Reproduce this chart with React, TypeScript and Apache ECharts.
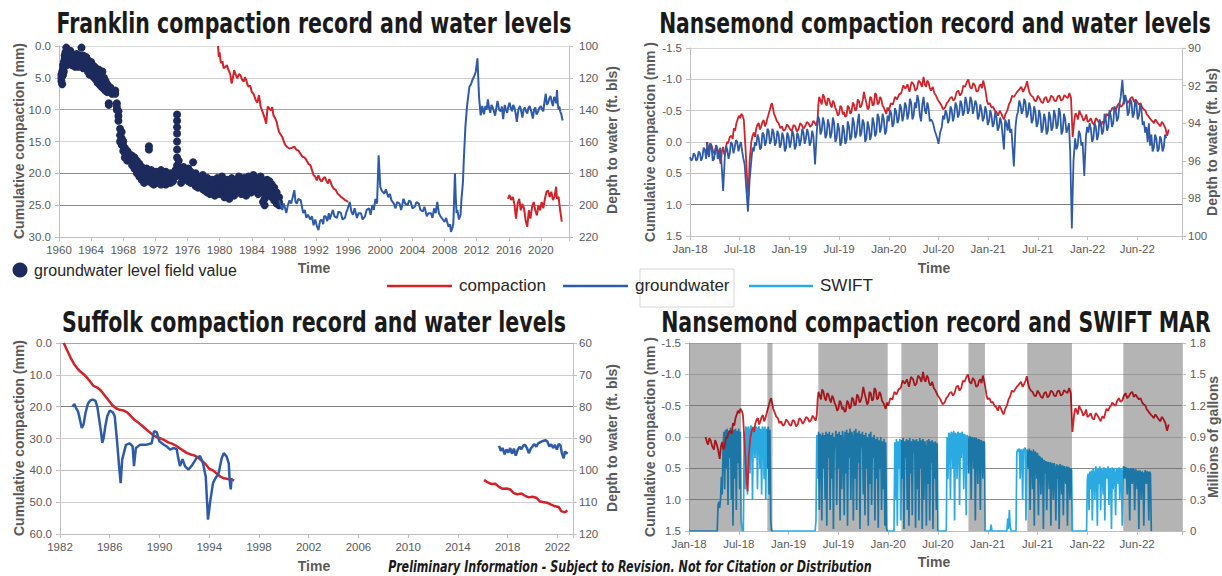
import React, { useEffect, useRef } from 'react';
import * as echarts from 'echarts';

// ---------------- Franklin ----------------
const franklinYearTicks = 4;
const franklinFieldValues: [number, number[]][] = [
  [1960.3, [122, 120, 118]], [1960.4, [124, 119, 116]], [1960.5, [114, 118, 112]], [1960.6, [110, 113, 116]],
  [1960.7, [108, 111, 106]], [1960.8, [104, 108, 112]], [1960.9, [101, 106, 110]], [1961.0, [105, 109, 112]],
  [1961.2, [107, 104, 111]], [1961.4, [106, 110, 103]], [1961.6, [108, 112, 105]], [1961.8, [107, 111, 109]],
  [1962.0, [106, 110, 113]], [1962.2, [108, 112, 105]], [1962.4, [107, 110, 113]], [1962.6, [109, 112, 106]],
  [1962.8, [101, 108, 111]], [1963.0, [106, 110, 114]], [1963.2, [108, 112, 109]], [1963.4, [110, 114, 107]],
  [1963.6, [109, 113, 116]], [1963.8, [111, 115, 118]], [1964.0, [110, 114, 117]], [1964.2, [112, 116, 119]],
  [1964.4, [113, 117, 120]], [1964.6, [114, 118, 121]], [1964.8, [116, 120, 123]], [1965.0, [115, 119, 124]],
  [1965.2, [117, 121, 125]], [1965.4, [116, 122, 126]], [1965.6, [120, 124, 127]], [1965.8, [122, 126, 128]],
  [1966.0, [124, 127, 129]], [1966.2, [136, 137]], [1966.4, [126, 128]], [1966.6, [128, 130]], [1966.8, [129]],
  [1967.0, [128, 130]], [1967.2, [136, 138, 140]], [1967.4, [141, 144, 147]], [1967.6, [152, 156, 160]],
  [1967.8, [154, 158, 162]], [1968.0, [160, 163, 166]], [1968.2, [164, 167, 170]], [1968.5, [166, 169, 172]],
  [1968.8, [168, 171]], [1969.1, [169, 172, 175]], [1969.4, [170, 174, 177]], [1969.7, [172, 176, 180]],
  [1970.0, [174, 178, 182]], [1970.3, [176, 180, 184]], [1970.6, [178, 182, 186]], [1970.9, [177, 181, 185]],
  [1971.2, [163, 165, 180, 184]], [1971.5, [178, 182, 186]], [1971.8, [180, 184, 187]], [1972.1, [179, 183, 186]],
  [1972.4, [181, 185]], [1972.7, [178, 182, 187]], [1973.0, [180, 184, 186]], [1973.3, [179, 183, 187]],
  [1973.6, [181, 185]], [1973.9, [180, 184, 186]], [1974.2, [181, 185]], [1974.5, [178, 182]],
  [1974.7, [143, 147, 151, 155, 160, 165, 170, 175]], [1974.9, [172, 176, 180]], [1975.2, [178, 182, 186]],
  [1975.5, [176, 180, 184]], [1975.8, [179, 183]], [1976.1, [177, 181, 185]], [1976.4, [179, 183, 186]],
  [1976.7, [173, 182]], [1977.0, [180, 184, 188]], [1977.3, [182, 186, 189]], [1977.6, [183, 187]],
  [1977.9, [181, 185, 190]], [1978.2, [184, 188, 191]], [1978.5, [183, 187, 192]], [1978.8, [185, 189, 193]],
  [1979.1, [184, 188, 191]], [1979.4, [186, 190, 194]], [1979.7, [183, 187, 192]], [1980.0, [185, 189, 193]],
  [1980.3, [182, 186, 191]], [1980.6, [186, 190, 195]], [1980.9, [184, 188, 192]], [1981.2, [187, 191, 196]],
  [1981.5, [183, 188, 193]], [1981.8, [186, 190, 194]], [1982.1, [184, 188, 192]], [1982.4, [182, 186, 191]],
  [1982.7, [185, 189, 193]], [1983.0, [183, 187, 191]], [1983.3, [186, 190, 194]], [1983.6, [182, 187, 191]],
  [1983.9, [184, 188, 192]], [1984.2, [181, 185, 190]], [1984.5, [183, 187, 191]], [1984.8, [185, 189, 193]],
  [1985.1, [182, 186, 190]], [1985.4, [186, 192, 198]], [1985.6, [190, 196, 200]], [1985.9, [184, 188, 192]],
  [1986.2, [185, 189, 194]], [1986.5, [187, 191, 195]], [1986.8, [189, 193, 197]], [1987.1, [192, 196, 199]],
  [1987.4, [195, 198, 200]],
];
const franklinGroundwater: [number, number][] = [
  [1987.4, 197], [1987.8, 203], [1988.0, 199], [1988.3, 205], [1988.5, 200], [1988.7, 197], [1988.9, 199],
  [1989.1, 195], [1989.3, 190.6], [1989.45, 198], [1989.6, 199], [1989.8, 196], [1990.1, 197], [1990.4, 205],
  [1990.6, 203], [1990.8, 208], [1991.0, 206], [1991.3, 209], [1991.5, 207], [1991.7, 212.6], [1991.9, 209],
  [1992.1, 213], [1992.3, 215.7], [1992.5, 210], [1992.7, 209], [1992.9, 212], [1993.0, 207], [1993.2, 207],
  [1993.4, 210], [1993.6, 205], [1993.7, 209], [1993.9, 206], [1994.1, 203], [1994.3, 207], [1994.6, 208],
  [1994.8, 204], [1995.1, 205], [1995.3, 209], [1995.6, 208], [1995.8, 204], [1995.9, 203], [1996.2, 198],
  [1996.4, 204], [1996.6, 206], [1996.8, 202], [1997.1, 208], [1997.3, 205], [1997.6, 205], [1997.8, 209],
  [1998.1, 207], [1998.3, 203], [1998.6, 202], [1998.8, 206], [1999.0, 200], [1999.2, 203], [1999.4, 196],
  [1999.6, 199], [1999.8, 168.6], [2000.0, 188.5], [2000.2, 191], [2000.5, 192.7], [2000.7, 190], [2001.0, 195],
  [2001.2, 193], [2001.4, 197], [2001.7, 199], [2001.9, 202], [2002.1, 198], [2002.4, 199], [2002.6, 203],
  [2002.9, 196], [2003.1, 199], [2003.4, 200], [2003.6, 197], [2003.8, 198], [2004.0, 202], [2004.3, 201],
  [2004.5, 198], [2004.8, 199], [2005.0, 203], [2005.3, 204], [2005.5, 201], [2005.8, 207], [2006.0, 205],
  [2006.3, 205], [2006.5, 208], [2006.7, 202], [2006.9, 205], [2007.1, 198], [2007.3, 205], [2007.5, 207],
  [2007.8, 209], [2008.0, 210.5], [2008.2, 208], [2008.5, 213.6], [2008.7, 212], [2008.8, 216.8], [2009.0, 214],
  [2009.1, 211.5], [2009.3, 180], [2009.4, 195], [2009.5, 205], [2009.6, 203], [2009.8, 209], [2010.0, 206],
  [2010.1, 197], [2010.3, 185], [2010.4, 171.7], [2010.6, 150.7], [2010.8, 138], [2011.1, 125.6], [2011.3, 124],
  [2011.5, 121], [2011.7, 119], [2011.9, 116], [2012.1, 107.8], [2012.3, 132], [2012.5, 143.6], [2012.7, 137.7],
  [2012.9, 142.9], [2013.1, 137.7], [2013.25, 140], [2013.4, 133.5], [2013.55, 139], [2013.7, 142], [2013.85, 137],
  [2014.0, 138.6], [2014.15, 141], [2014.3, 143.8], [2014.45, 139], [2014.6, 134.5], [2014.8, 140], [2015.0, 141],
  [2015.15, 138], [2015.3, 146], [2015.5, 137], [2015.65, 140], [2015.8, 142], [2015.95, 138], [2016.1, 135.6],
  [2016.25, 139], [2016.4, 141], [2016.55, 137], [2016.7, 138.6], [2016.85, 142], [2017.0, 147.6], [2017.2, 140],
  [2017.4, 137.7], [2017.55, 141], [2017.7, 145], [2017.85, 140], [2018.0, 138.6], [2018.15, 141], [2018.3, 142.5],
  [2018.45, 139], [2018.6, 137.7], [2018.8, 141], [2019.0, 145.5], [2019.15, 140], [2019.3, 138.6], [2019.45, 143],
  [2019.6, 141.8], [2019.8, 139], [2020.0, 137.7], [2020.15, 140], [2020.3, 141], [2020.45, 135], [2020.6, 130],
  [2020.75, 137], [2020.9, 135.6], [2021.05, 133], [2021.2, 131.4], [2021.35, 135], [2021.5, 137.7], [2021.65, 132],
  [2021.8, 133.5], [2021.9, 136], [2022.0, 127.7], [2022.1, 136], [2022.2, 140], [2022.3, 138], [2022.4, 141],
  [2022.55, 143], [2022.7, 146.8],
];
const franklinCompactionEarly: [number, number][] = [
  [1979.8, 0.0], [1979.9, 1.7], [1980.0, 1.0], [1980.1, 2.2], [1980.2, 2.7], [1980.35, 2.4], [1980.5, 3.5],
  [1980.7, 3.3], [1980.9, 3.0], [1981.05, 3.6], [1981.2, 4.0], [1981.35, 4.6], [1981.5, 5.9], [1981.65, 5.0],
  [1981.8, 3.8], [1982.0, 4.5], [1982.2, 5.1], [1982.4, 4.4], [1982.6, 4.6], [1982.8, 5.3], [1983.0, 5.6],
  [1983.15, 4.9], [1983.3, 5.3], [1983.45, 6.0], [1983.6, 6.4], [1983.8, 6.2], [1984.0, 7.2], [1984.25, 7.6],
  [1984.5, 8.5], [1984.7, 8.9], [1984.9, 7.7], [1985.0, 8.6], [1985.1, 9.5], [1985.3, 10.2], [1985.5, 10.9],
  [1985.65, 11.5], [1985.8, 12.2], [1985.9, 10.6], [1986.0, 9.5], [1986.2, 9.9], [1986.4, 10.1], [1986.55, 9.6],
  [1986.7, 10.9], [1986.9, 11.3], [1987.1, 11.9], [1987.25, 12.8], [1987.4, 13.5], [1987.6, 13.9], [1987.8, 14.3],
  [1988.0, 15.0], [1988.2, 15.6], [1988.45, 15.9], [1988.7, 16.1], [1989.0, 16.0], [1989.3, 15.8], [1989.55, 16.3],
  [1989.8, 16.4], [1990.05, 16.9], [1990.3, 17.4], [1990.55, 17.5], [1990.8, 17.9], [1991.05, 18.5], [1991.3, 18.7],
  [1991.5, 19.5], [1991.7, 20.3], [1991.9, 20.5], [1992.1, 21.1], [1992.3, 20.3], [1992.5, 21.0], [1992.7, 21.3],
  [1992.9, 20.8], [1993.1, 20.6], [1993.3, 21.2], [1993.5, 21.6], [1993.65, 20.9], [1993.8, 21.3], [1994.0, 22.0],
  [1994.2, 22.4], [1994.45, 22.6], [1994.7, 23.2], [1994.9, 23.4], [1995.1, 23.7], [1995.35, 23.9], [1995.6, 24.2],
  [1995.8, 24.3], [1996.0, 24.5],
];
const franklinCompactionRecent: [number, number][] = [
  [2015.9, 24.0], [2016.1, 23.4], [2016.3, 24.2], [2016.5, 23.7], [2016.7, 24.8], [2016.9, 27.1], [2017.1, 24.8],
  [2017.3, 24.0], [2017.5, 25.8], [2017.7, 24.8], [2017.9, 25.5], [2018.1, 27.4], [2018.3, 28.4], [2018.5, 25.8],
  [2018.7, 27.1], [2018.9, 25.3], [2019.1, 24.5], [2019.3, 25.8], [2019.5, 26.6], [2019.7, 25.0], [2019.9, 25.8],
  [2020.1, 24.5], [2020.3, 25.5], [2020.5, 24.0], [2020.7, 22.9], [2020.9, 22.7], [2021.1, 23.7], [2021.3, 22.9],
  [2021.5, 24.2], [2021.7, 23.7], [2021.9, 22.1], [2022.0, 24.0], [2022.2, 23.7], [2022.4, 25.8], [2022.6, 27.6],
];

// ---------------- Nansemond (months since Jan 2018) ----------------
const nansemondTickLabels = ['Jan-18', 'Jul-18', 'Jan-19', 'Jul-19', 'Jan-20', 'Jul-20', 'Jan-21', 'Jul-21', 'Jan-22', 'Jun-22'];
const nansemondCompaction: [number, number][] = [
  [2.0, 0.0], [2.15, 0.08], [2.3, 0.12], [2.45, 0.02], [2.6, 0.05], [2.8, 0.15], [3.0, 0.2], [3.15, 0.05], [3.3, 0.1],
  [3.5, 0.2], [3.7, 0.35], [3.85, 0.15], [4.0, 0.08], [4.15, 0.2], [4.3, 0.15], [4.45, 0.0], [4.6, 0.02], [4.8, -0.08],
  [5.0, -0.1], [5.15, -0.05], [5.3, -0.22], [5.45, -0.18], [5.6, -0.3], [5.75, -0.36], [5.9, -0.42], [6.05, -0.38],
  [6.2, -0.45], [6.35, -0.42], [6.5, -0.35], [6.7, 0.1], [6.9, 0.6], [7.05, 0.87], [7.2, 0.3], [7.4, 0.0],
  [7.55, -0.1], [7.7, -0.15], [7.85, -0.08], [8.0, -0.22], [8.15, -0.28], [8.3, -0.3], [8.45, -0.2], [8.6, -0.25],
  [8.75, -0.32], [8.9, -0.35], [9.05, -0.25], [9.2, -0.3], [9.35, -0.38], [9.5, -0.45], [9.65, -0.52], [9.8, -0.6],
  [9.9, -0.62], [10.0, -0.55], [10.15, -0.45], [10.3, -0.4], [10.5, -0.33], [10.7, -0.3], [10.9, -0.22], [11.1, -0.25],
  [11.3, -0.18], [11.5, -0.2], [11.7, -0.28], [11.9, -0.25], [12.1, -0.2], [12.3, -0.18], [12.5, -0.27], [12.7, -0.25],
  [12.9, -0.17], [13.1, -0.2], [13.3, -0.3], [13.5, -0.27], [13.7, -0.21], [13.9, -0.25], [14.1, -0.32], [14.3, -0.3],
  [14.5, -0.24], [14.7, -0.27], [14.9, -0.34], [15.1, -0.3], [15.25, -0.26], [15.4, -0.35], [15.5, -0.6], [15.6, -0.72],
  [15.75, -0.66], [15.9, -0.6], [16.05, -0.76], [16.2, -0.72], [16.35, -0.62], [16.5, -0.58], [16.65, -0.7],
  [16.8, -0.68], [16.95, -0.6], [17.1, -0.55], [17.25, -0.66], [17.4, -0.62], [17.55, -0.54], [17.7, -0.5],
  [17.85, -0.42], [18.0, -0.45], [18.15, -0.58], [18.3, -0.55], [18.45, -0.44], [18.6, -0.48], [18.75, -0.4],
  [18.9, -0.42], [19.05, -0.58], [19.2, -0.55], [19.35, -0.45], [19.5, -0.48], [19.65, -0.63], [19.8, -0.6],
  [19.95, -0.5], [20.1, -0.52], [20.25, -0.68], [20.4, -0.65], [20.55, -0.55], [20.7, -0.58], [20.85, -0.66],
  [21.0, -0.8], [21.15, -0.7], [21.3, -0.62], [21.45, -0.52], [21.6, -0.55], [21.75, -0.72], [21.9, -0.7],
  [22.05, -0.58], [22.2, -0.6], [22.35, -0.78], [22.5, -0.75], [22.65, -0.6], [22.8, -0.62], [22.95, -0.72],
  [23.1, -0.68], [23.25, -0.58], [23.4, -0.55], [23.55, -0.5], [23.7, -0.45], [23.85, -0.55], [24.0, -0.5],
  [24.25, -0.62], [24.5, -0.6], [24.75, -0.72], [25.0, -0.68], [25.25, -0.76], [25.5, -0.78], [25.75, -0.9],
  [26.0, -0.85], [26.25, -0.92], [26.5, -0.8], [26.75, -0.96], [27.0, -0.92], [27.2, -0.82], [27.4, -0.85],
  [27.6, -0.98], [27.8, -0.95], [28.0, -0.88], [28.2, -1.04], [28.35, -0.92], [28.5, -0.88], [28.65, -0.98],
  [28.8, -0.95], [28.95, -0.86], [29.1, -0.82], [29.3, -0.88], [29.5, -0.78], [29.7, -0.74], [29.9, -0.68],
  [30.1, -0.64], [30.3, -0.6], [30.55, -0.52], [30.8, -0.55], [31.0, -0.62], [31.2, -0.65], [31.4, -0.7],
  [31.6, -0.72], [31.8, -0.66], [32.0, -0.7], [32.2, -0.8], [32.4, -0.82], [32.6, -0.74], [32.8, -0.78],
  [33.0, -0.9], [33.2, -0.88], [33.4, -0.95], [33.6, -1.0], [33.8, -0.88], [34.0, -0.85], [34.2, -0.94],
  [34.4, -0.9], [34.6, -0.8], [34.8, -0.82], [34.95, -0.9], [35.1, -0.92], [35.25, -0.86], [35.4, -0.98],
  [35.55, -0.9], [35.7, -0.8], [35.85, -0.66], [36.0, -0.6], [36.2, -0.62], [36.4, -0.55], [36.6, -0.56],
  [36.8, -0.5], [37.0, -0.48], [37.2, -0.42], [37.4, -0.5], [37.6, -0.45], [37.75, -0.4], [37.9, -0.36],
  [38.1, -0.45], [38.3, -0.5], [38.5, -0.6], [38.7, -0.65], [38.9, -0.74], [39.1, -0.72], [39.3, -0.76],
  [39.5, -0.8], [39.75, -0.84], [40.0, -0.88], [40.2, -0.8], [40.4, -0.85], [40.55, -0.9], [40.7, -0.97],
  [40.85, -0.86], [41.0, -0.78], [41.2, -0.74], [41.4, -0.72], [41.6, -0.66], [41.8, -0.65], [42.0, -0.74],
  [42.2, -0.7], [42.4, -0.64], [42.6, -0.62], [42.8, -0.7], [43.0, -0.72], [43.2, -0.63], [43.4, -0.66],
  [43.6, -0.74], [43.8, -0.72], [44.0, -0.66], [44.2, -0.65], [44.4, -0.73], [44.6, -0.74], [44.8, -0.66],
  [45.0, -0.68], [45.2, -0.75], [45.4, -0.72], [45.6, -0.7], [45.8, -0.78], [46.0, -0.7], [46.2, -0.08],
  [46.4, -0.35], [46.55, -0.46], [46.7, -0.42], [46.85, -0.36], [47.0, -0.5], [47.15, -0.45], [47.3, -0.42],
  [47.5, -0.34], [47.7, -0.38], [47.85, -0.44], [48.0, -0.32], [48.2, -0.34], [48.4, -0.38], [48.6, -0.3],
  [48.8, -0.28], [49.0, -0.38], [49.2, -0.35], [49.4, -0.3], [49.6, -0.25], [49.8, -0.33], [50.0, -0.3],
  [50.15, -0.38], [50.3, -0.45], [50.5, -0.42], [50.7, -0.48], [50.85, -0.5], [51.0, -0.55], [51.2, -0.52],
  [51.4, -0.5], [51.6, -0.58], [51.8, -0.62], [52.0, -0.56], [52.2, -0.58], [52.4, -0.66], [52.6, -0.7],
  [52.8, -0.62], [53.0, -0.65], [53.2, -0.7], [53.4, -0.72], [53.6, -0.64], [53.8, -0.68], [54.0, -0.64],
  [54.2, -0.6], [54.4, -0.62], [54.6, -0.55], [54.8, -0.52], [55.0, -0.5], [55.15, -0.44], [55.3, -0.42],
  [55.5, -0.38], [55.7, -0.35], [55.85, -0.33], [56.0, -0.3], [56.2, -0.36], [56.4, -0.32], [56.6, -0.28],
  [56.8, -0.25], [56.95, -0.32], [57.1, -0.3], [57.25, -0.26], [57.4, -0.22], [57.6, -0.1], [57.8, -0.2],
];
const nansemondGroundwater: [number, number][] = [
  [0.0, 95.8], [0.15, 96.0], [0.3, 95.9], [0.45, 95.6], [0.6, 95.7], [0.75, 96.0], [0.9, 95.9], [1.05, 95.5],
  [1.2, 95.6], [1.35, 96.0], [1.5, 95.8], [1.65, 95.3], [1.8, 95.4], [1.95, 95.9], [2.1, 95.0], [2.2, 95.6],
  [2.3, 95.8], [2.45, 95.1], [2.6, 95.3], [2.75, 96.0], [2.9, 95.9], [3.05, 95.4], [3.2, 95.2], [3.35, 95.9],
  [3.5, 95.7], [3.65, 95.3], [3.8, 96.1], [4.0, 97.6], [4.2, 95.8], [4.35, 95.2], [4.5, 95.4], [4.65, 95.9],
  [4.8, 95.6], [4.95, 95.0], [5.1, 95.1], [5.25, 95.6], [5.4, 95.3], [5.55, 94.9], [5.7, 95.0], [5.85, 95.5],
  [6.0, 95.2], [6.15, 95.0], [6.3, 95.5], [6.45, 95.9], [6.6, 96.2], [6.8, 97.5], [7.0, 98.7], [7.2, 97.0],
  [7.4, 96.0], [7.55, 95.3], [7.7, 95.5], [7.85, 95.0], [8.0, 95.2], [8.15, 94.6], [8.3, 94.8], [8.45, 95.4],
  [8.6, 95.3], [8.75, 94.5], [8.9, 94.6], [9.05, 95.2], [9.2, 95.0], [9.35, 94.3], [9.5, 94.4], [9.65, 95.1],
  [9.8, 94.9], [9.95, 94.3], [10.1, 94.5], [10.25, 95.2], [10.4, 95.0], [10.55, 94.4], [10.7, 94.6], [10.85, 95.3],
  [11.0, 95.1], [11.15, 94.5], [11.3, 94.8], [11.45, 95.5], [11.6, 95.3], [11.75, 94.5], [11.9, 94.7], [12.05, 95.3],
  [12.2, 95.0], [12.35, 94.4], [12.5, 94.6], [12.65, 95.4], [12.8, 95.2], [12.95, 94.5], [13.1, 94.7], [13.25, 95.2],
  [13.4, 94.9], [13.55, 94.3], [13.7, 94.5], [13.85, 95.1], [14.0, 94.8], [14.15, 94.3], [14.3, 94.6], [14.45, 95.2],
  [14.6, 95.0], [14.75, 94.4], [14.9, 94.7], [15.1, 96.2], [15.3, 94.5], [15.45, 93.6], [15.6, 93.8], [15.75, 94.6],
  [15.9, 94.4], [16.05, 93.7], [16.2, 94.0], [16.35, 94.8], [16.5, 94.6], [16.65, 93.8], [16.8, 94.1], [16.95, 94.8],
  [17.1, 94.5], [17.25, 93.7], [17.4, 94.0], [17.55, 95.0], [17.7, 94.8], [17.85, 94.0], [18.0, 94.3], [18.15, 95.2],
  [18.3, 95.0], [18.45, 94.1], [18.6, 94.4], [18.75, 95.1], [18.9, 94.9], [19.05, 93.9], [19.2, 94.2], [19.35, 94.9],
  [19.5, 94.7], [19.65, 93.7], [19.8, 94.0], [19.95, 94.8], [20.1, 94.6], [20.25, 93.9], [20.4, 93.5], [20.55, 94.7],
  [20.7, 94.5], [20.85, 93.8], [21.0, 94.0], [21.15, 95.0], [21.3, 94.8], [21.45, 93.9], [21.6, 94.2], [21.75, 94.9],
  [21.9, 94.6], [22.05, 93.7], [22.2, 94.0], [22.35, 94.7], [22.5, 94.5], [22.65, 93.5], [22.8, 93.7], [22.95, 94.5],
  [23.1, 94.2], [23.25, 93.5], [23.4, 93.8], [23.55, 94.6], [23.7, 94.4], [23.85, 93.6], [24.0, 93.9], [24.15, 93.3],
  [24.3, 93.5], [24.45, 94.2], [24.6, 94.0], [24.75, 93.2], [24.9, 93.4], [25.05, 94.0], [25.2, 93.8], [25.35, 93.0],
  [25.5, 93.2], [25.65, 93.9], [25.8, 93.6], [25.95, 92.9], [26.1, 93.1], [26.25, 93.8], [26.4, 93.5], [26.55, 92.7],
  [26.7, 92.9], [26.85, 93.8], [27.0, 93.6], [27.15, 92.9], [27.3, 93.2], [27.45, 92.5], [27.6, 92.8], [27.75, 93.6],
  [27.9, 93.9], [28.05, 93.0], [28.2, 92.6], [28.35, 93.3], [28.5, 93.5], [28.65, 92.9], [28.8, 93.2], [28.95, 93.9],
  [29.1, 93.8], [29.25, 93.9], [29.4, 94.1], [29.55, 94.4], [29.7, 94.6], [29.85, 94.8], [30.0, 95.1], [30.2, 94.5],
  [30.4, 94.2], [30.55, 93.6], [30.7, 93.8], [30.85, 93.3], [31.0, 93.5], [31.15, 94.0], [31.3, 93.8], [31.45, 93.1],
  [31.6, 93.3], [31.75, 93.9], [31.9, 93.6], [32.05, 92.9], [32.2, 93.1], [32.35, 93.7], [32.5, 93.5], [32.65, 92.8],
  [32.8, 93.0], [32.95, 93.6], [33.1, 93.4], [33.25, 92.6], [33.4, 92.9], [33.55, 93.5], [33.7, 93.3], [33.85, 92.6],
  [34.0, 92.8], [34.15, 93.5], [34.3, 93.2], [34.45, 92.8], [34.6, 93.0], [34.75, 93.8], [34.9, 93.6], [35.05, 93.0],
  [35.2, 93.3], [35.35, 93.9], [35.5, 93.7], [35.65, 93.1], [35.8, 93.4], [35.95, 94.1], [36.1, 93.9], [36.25, 93.3],
  [36.4, 93.6], [36.55, 94.2], [36.7, 94.0], [36.85, 93.4], [37.0, 93.7], [37.15, 94.4], [37.3, 94.2], [37.45, 93.7],
  [37.6, 94.0], [37.9, 95.4], [38.05, 93.8], [38.2, 94.0], [38.35, 94.4], [38.5, 93.8], [38.65, 94.5], [38.8, 94.3],
  [39.1, 96.3], [39.3, 94.2], [39.45, 93.6], [39.6, 93.4], [39.75, 92.8], [39.9, 93.0], [40.05, 93.5], [40.2, 93.3],
  [40.35, 92.7], [40.5, 92.9], [40.65, 93.7], [40.8, 93.5], [40.95, 92.9], [41.1, 93.2], [41.25, 94.0], [41.4, 93.8],
  [41.55, 93.1], [41.7, 93.4], [41.85, 94.2], [42.0, 94.0], [42.15, 93.3], [42.3, 93.6], [42.45, 94.5], [42.6, 94.3],
  [42.75, 93.5], [42.9, 93.8], [43.05, 94.6], [43.2, 94.4], [43.35, 93.4], [43.5, 93.7], [43.65, 94.4], [43.8, 94.2],
  [43.95, 93.3], [44.1, 93.6], [44.25, 94.3], [44.4, 94.1], [44.55, 93.2], [44.7, 93.5], [44.85, 94.6], [45.0, 94.4],
  [45.15, 93.5], [45.3, 93.8], [45.45, 94.5], [45.6, 94.3], [45.75, 94.0], [45.9, 95.5], [46.1, 99.6], [46.3, 96.0],
  [46.5, 94.8], [46.65, 95.4], [46.8, 95.2], [46.95, 94.4], [47.1, 94.6], [47.25, 95.2], [47.4, 95.0], [47.6, 96.8],
  [47.8, 94.7], [47.95, 94.2], [48.1, 94.5], [48.25, 94.0], [48.4, 94.3], [48.55, 95.0], [48.7, 94.8], [48.85, 94.0],
  [49.0, 94.2], [49.15, 94.9], [49.3, 94.6], [49.45, 93.8], [49.6, 94.0], [49.75, 94.6], [49.9, 94.4], [50.05, 93.5],
  [50.2, 93.8], [50.35, 94.4], [50.5, 94.2], [50.65, 93.3], [50.8, 93.6], [50.95, 94.2], [51.1, 94.0], [51.25, 93.1],
  [51.4, 93.3], [51.55, 93.9], [51.7, 93.7], [51.85, 93.0], [52.0, 92.6], [52.2, 91.7], [52.4, 93.0], [52.55, 92.5],
  [52.7, 92.8], [52.85, 93.6], [53.0, 93.4], [53.15, 92.7], [53.3, 92.9], [53.45, 93.7], [53.6, 93.5], [53.75, 92.8],
  [53.9, 93.0], [54.05, 93.8], [54.2, 93.6], [54.35, 93.0], [54.5, 93.3], [54.65, 94.1], [54.8, 93.9], [54.95, 94.5],
  [55.1, 94.2], [55.25, 95.0], [55.4, 94.0], [55.55, 95.2], [55.7, 94.6], [55.85, 95.5], [56.0, 95.3], [56.15, 94.6],
  [56.3, 94.8], [56.45, 95.5], [56.6, 95.4], [56.75, 94.7], [56.9, 94.9], [57.05, 95.5], [57.2, 95.3], [57.35, 94.6],
  [57.5, 94.8],
];
const swiftMar: [number, number][] = [
  [0, 0], [3.4, 0], [3.5, 0.25], [3.6, 0.28], [3.7, 0.22], [3.8, 0.3], [3.9, 0.52], [4.0, 0.35], [4.1, 0.78],
  [4.2, 0.95], [4.3, 0.4], [4.4, 0.97], [4.5, 0.6], [4.6, 0.98], [4.7, 0.25], [4.8, 0.96], [4.9, 0.7], [5.0, 0.99],
  [5.1, 0.3], [5.2, 0.95], [5.3, 0.05], [5.4, 0.97], [5.5, 0.5], [5.6, 0.98], [5.7, 0.2], [5.8, 0.96], [5.9, 0.65],
  [6.0, 0.98], [6.1, 0.4], [6.2, 0.95], [6.3, 0.1], [6.4, 0], [6.55, 0], [6.65, 0.95], [6.75, 0.4], [6.85, 1.0],
  [6.95, 0.98], [7.05, 0.35], [7.15, 1.0], [7.25, 0.97], [7.35, 0.55], [7.45, 1.01], [7.55, 0.99], [7.65, 0.3],
  [7.75, 1.0], [7.85, 0.96], [7.95, 0.7], [8.05, 1.0], [8.15, 0.98], [8.25, 0.4], [8.35, 0.99], [8.45, 1.0],
  [8.55, 0.6], [8.65, 0.98], [8.75, 0.35], [8.85, 1.0], [8.95, 0.97], [9.05, 0.5], [9.15, 1.0], [9.25, 0.3],
  [9.35, 0.98], [9.45, 0.6], [9.55, 1.0], [9.65, 0.35], [9.75, 0.97], [9.85, 0.1], [9.95, 0], [15.2, 0],
  [15.3, 0.1], [15.4, 0.92], [15.5, 0.5], [15.6, 0.95], [15.7, 0.2], [15.8, 0.93], [15.9, 0.9], [16.0, 0.1],
  [16.1, 0.94], [16.2, 0.6], [16.3, 0.92], [16.4, 0.3], [16.5, 0.95], [16.6, 0.05], [16.7, 0.93], [16.8, 0.7],
  [16.9, 0.95], [17.0, 0.2], [17.1, 0.92], [17.2, 0.5], [17.3, 0.94], [17.4, 0.02], [17.5, 0.9], [17.6, 0.8],
  [17.7, 0.96], [17.8, 0.25], [17.9, 0.93], [18.0, 0.6], [18.1, 0.95], [18.2, 0.1], [18.3, 0.92], [18.4, 0.4],
  [18.5, 0.96], [18.6, 0.85], [18.7, 0.15], [18.8, 0.95], [18.9, 0.55], [19.0, 0.97], [19.1, 0.05], [19.2, 0.94],
  [19.3, 0.7], [19.4, 0.98], [19.5, 0.3], [19.6, 0.95], [19.7, 0.9], [19.8, 0.1], [19.9, 0.96], [20.0, 0.5],
  [20.1, 0.98], [20.2, 0.2], [20.3, 0.94], [20.4, 0.65], [20.5, 0.96], [20.6, 0.02], [20.7, 0.93], [20.8, 0.8],
  [20.9, 0.95], [21.0, 0.35], [21.1, 0.92], [21.2, 0.15], [21.3, 0.94], [21.4, 0.6], [21.5, 0.9], [21.6, 0.05],
  [21.7, 0.93], [21.8, 0.45], [21.9, 0.95], [22.0, 0.25], [22.1, 0.9], [22.2, 0.7], [22.3, 0.92], [22.4, 0.1],
  [22.5, 0.88], [22.6, 0.5], [22.7, 0.9], [22.8, 0.03], [22.9, 0.87], [23.0, 0.6], [23.1, 0.9], [23.2, 0.2],
  [23.3, 0.86], [23.4, 0.4], [23.5, 0.88], [23.6, 0.05], [23.7, 0.85], [23.8, 0.02], [23.9, 0], [24.7, 0],
  [24.8, 0.85], [24.9, 0.3], [25.0, 0.88], [25.1, 0.05], [25.2, 0.86], [25.3, 0.6], [25.4, 0.88], [25.5, 0.1],
  [25.6, 0.87], [25.7, 0.5], [25.8, 0.89], [25.9, 0.02], [26.0, 0.86], [26.1, 0.7], [26.2, 0.88], [26.3, 0.2],
  [26.4, 0.87], [26.5, 0.05], [26.6, 0.89], [26.7, 0.55], [26.8, 0.86], [26.9, 0.15], [27.0, 0.88], [27.1, 0.75],
  [27.2, 0.87], [27.3, 0.03], [27.4, 0.88], [27.5, 0.4], [27.6, 0.86], [27.7, 0.1], [27.8, 0.89], [27.9, 0.6],
  [28.0, 0.87], [28.1, 0.02], [28.2, 0.88], [28.3, 0.3], [28.4, 0.86], [28.5, 0.8], [28.6, 0.05], [28.7, 0.87],
  [28.8, 0.45], [28.9, 0.88], [29.0, 0.1], [29.1, 0.86], [29.2, 0.65], [29.3, 0.87], [29.4, 0.02], [29.5, 0.85],
  [29.6, 0.5], [29.7, 0.86], [29.8, 0.2], [29.9, 0.84], [30.0, 0], [31.0, 0], [31.1, 0.9], [31.2, 0.5],
  [31.3, 0.94], [31.4, 0.92], [31.5, 0.3], [31.6, 0.95], [31.7, 0.93], [31.8, 0.6], [31.9, 0.96], [32.0, 0.1],
  [32.1, 0.94], [32.2, 0.92], [32.3, 0.5], [32.4, 0.95], [32.5, 0.93], [32.6, 0.25], [32.7, 0.94], [32.8, 0.7],
  [32.9, 0.95], [33.0, 0.92], [33.1, 0.4], [33.2, 0.93], [33.3, 0.9], [33.4, 0.15], [33.5, 0.92], [33.6, 0.88],
  [33.7, 0.55], [33.8, 0.91], [33.9, 0.89], [34.0, 0.3], [34.1, 0.9], [34.2, 0.88], [34.3, 0.6], [34.4, 0.9],
  [34.5, 0.1], [34.6, 0.89], [34.7, 0.87], [34.8, 0.45], [34.9, 0.88], [35.0, 0.86], [35.1, 0.2], [35.2, 0.87],
  [35.3, 0.85], [35.4, 0.5], [35.5, 0.86], [35.6, 0.84], [35.7, 0], [36.3, 0], [36.4, 0.06], [36.5, 0], [38.3, 0],
  [38.4, 0.12], [38.5, 0.02], [38.6, 0.2], [38.7, 0.05], [38.8, 0], [39.4, 0], [39.5, 0.75], [39.6, 0.78],
  [39.7, 0.76], [39.8, 0.79], [39.9, 0.5], [40.0, 0.78], [40.1, 0.77], [40.2, 0.3], [40.3, 0.79], [40.4, 0.76],
  [40.5, 0.8], [40.6, 0.1], [40.7, 0.78], [40.8, 0.76], [40.9, 0.6], [41.0, 0.79], [41.1, 0.2], [41.2, 0.77],
  [41.3, 0.75], [41.4, 0.4], [41.5, 0.78], [41.6, 0.05], [41.7, 0.76], [41.8, 0.74], [41.9, 0.5], [42.0, 0.75],
  [42.1, 0.15], [42.2, 0.72], [42.3, 0.7], [42.4, 0.35], [42.5, 0.7], [42.6, 0.68], [42.7, 0.02], [42.8, 0.68],
  [42.9, 0.55], [43.0, 0.67], [43.1, 0.2], [43.2, 0.66], [43.3, 0.65], [43.4, 0.4], [43.5, 0.66], [43.6, 0.05],
  [43.7, 0.65], [43.8, 0.64], [43.9, 0.3], [44.0, 0.65], [44.1, 0.6], [44.2, 0.1], [44.3, 0.64], [44.4, 0.5],
  [44.5, 0.63], [44.6, 0.02], [44.7, 0.64], [44.8, 0.62], [44.9, 0.35], [45.0, 0.63], [45.1, 0.15], [45.2, 0.62],
  [45.3, 0.6], [45.4, 0.45], [45.5, 0.62], [45.6, 0.05], [45.7, 0.61], [45.8, 0.6], [45.9, 0.3], [46.0, 0.6],
  [46.1, 0.58], [46.2, 0], [47.9, 0], [48.0, 0.5], [48.1, 0.55], [48.2, 0.2], [48.3, 0.57], [48.4, 0.4],
  [48.5, 0.58], [48.6, 0.1], [48.7, 0.6], [48.8, 0.55], [48.9, 0.3], [49.0, 0.62], [49.1, 0.58], [49.2, 0.05],
  [49.3, 0.6], [49.4, 0.45], [49.5, 0.62], [49.6, 0.2], [49.7, 0.6], [49.8, 0.58], [49.9, 0.35], [50.0, 0.61],
  [50.1, 0.1], [50.2, 0.6], [50.3, 0.57], [50.4, 0.5], [50.5, 0.62], [50.6, 0.25], [50.7, 0.6], [50.8, 0.58],
  [50.9, 0.02], [51.0, 0.61], [51.1, 0.4], [51.2, 0.6], [51.3, 0.55], [51.4, 0.15], [51.5, 0.6], [51.6, 0.58],
  [51.7, 0.45], [51.8, 0.61], [51.9, 0.3], [52.0, 0.6], [52.1, 0.57], [52.2, 0.05], [52.3, 0.6], [52.4, 0.62],
  [52.5, 0.5], [52.6, 0.61], [52.7, 0.6], [52.8, 0.35], [52.9, 0.6], [53.0, 0.58], [53.1, 0.1], [53.2, 0.6],
  [53.3, 0.59], [53.4, 0.45], [53.5, 0.6], [53.6, 0.58], [53.7, 0.2], [53.8, 0.59], [53.9, 0.57], [54.0, 0.4],
  [54.1, 0.58], [54.2, 0.02], [54.3, 0.58], [54.4, 0.56], [54.5, 0.3], [54.6, 0.57], [54.7, 0.55], [54.8, 0.05],
  [54.9, 0.56], [55.0, 0.58], [55.1, 0.45], [55.2, 0.57], [55.3, 0.56], [55.4, 0.1], [55.5, 0.57], [55.6, 0.55],
  [55.7, 0],
];
const swiftBands: [number, number][] = [
  [0, 6.28], [9.44, 10.06], [15.58, 23.94], [25.59, 30.0], [33.67, 35.66], [40.76, 46.14], [52.33, 59.4],
];

// ---------------- Suffolk ----------------
const suffolkCompactionEarly: [number, number][] = [
  [1982.3, 0], [1982.6, 2.5], [1982.9, 5.0], [1983.2, 7.0], [1983.5, 8.5], [1983.8, 9.5], [1984.1, 10.5],
  [1984.4, 12.0], [1984.7, 13.5], [1985.0, 14.0], [1985.3, 15.0], [1985.6, 16.5], [1985.9, 18.0], [1986.2, 19.5],
  [1986.5, 20.5], [1986.8, 21.0], [1987.1, 21.2], [1987.4, 21.8], [1987.7, 23.0], [1988.0, 24.2], [1988.3, 25.0],
  [1988.6, 26.0], [1988.9, 27.0], [1989.2, 28.0], [1989.5, 29.0], [1989.8, 29.6], [1990.1, 30.0], [1990.4, 30.5],
  [1990.7, 31.2], [1991.0, 31.6], [1991.3, 32.2], [1991.6, 33.0], [1991.9, 33.8], [1992.2, 34.5], [1992.5, 35.0],
  [1992.8, 35.3], [1993.1, 36.0], [1993.4, 37.0], [1993.7, 38.0], [1994.0, 39.5], [1994.3, 40.0], [1994.6, 41.0],
  [1994.9, 42.0], [1995.2, 42.5], [1995.5, 42.7], [1995.8, 42.8], [1996.0, 43.2],
];
const suffolkCompactionRecent: [number, number][] = [
  [2016.1, 43.0], [2016.4, 43.8], [2016.7, 44.3], [2017.0, 44.2], [2017.3, 45.2], [2017.6, 45.8], [2017.9, 45.7],
  [2018.2, 46.0], [2018.5, 47.2], [2018.8, 47.5], [2019.1, 47.3], [2019.4, 48.0], [2019.7, 48.5], [2020.0, 48.3],
  [2020.3, 48.6], [2020.6, 49.8], [2020.9, 50.0], [2021.2, 50.2], [2021.5, 50.8], [2021.8, 51.3], [2022.1, 51.5],
  [2022.3, 52.8], [2022.6, 53.2], [2022.8, 52.6],
];
const suffolkGroundwaterEarly: [number, number][] = [
  [1983.0, 80.0], [1983.15, 79.2], [1983.3, 80.5], [1983.45, 81.5], [1983.6, 84.0], [1983.75, 86.7], [1983.9, 85.5],
  [1984.05, 82.0], [1984.25, 79.0], [1984.45, 78.0], [1984.65, 77.8], [1984.85, 78.2], [1985.0, 80.0],
  [1985.15, 84.0], [1985.3, 88.0], [1985.4, 91.4], [1985.5, 90.0], [1985.65, 86.0], [1985.8, 83.0], [1986.0, 81.2],
  [1986.25, 81.8], [1986.4, 83.0], [1986.5, 87.2], [1986.6, 91.4], [1986.75, 98.7], [1986.88, 104.0],
  [1987.0, 96.6], [1987.3, 92.0], [1987.6, 91.5], [1987.84, 92.5], [1987.95, 98.7], [1988.1, 93.0],
  [1988.43, 92.0], [1988.9, 92.0], [1989.37, 91.5], [1989.56, 87.7], [1989.77, 88.0], [1989.99, 90.9],
  [1990.3, 91.8], [1990.58, 92.5], [1990.85, 93.5], [1991.1, 93.0], [1991.38, 93.3], [1991.5, 96.0],
  [1991.65, 98.7], [1991.85, 96.5], [1992.05, 98.7], [1992.32, 99.8], [1992.6, 98.5], [1993.0, 96.0],
  [1993.26, 95.5], [1993.5, 97.8], [1993.72, 102.0], [1993.8, 108.0], [1993.9, 115.5], [1994.07, 110.0],
  [1994.3, 104.0], [1994.5, 102.5], [1994.75, 101.0], [1995.0, 96.2], [1995.17, 94.6], [1995.4, 95.7],
  [1995.57, 97.8], [1995.64, 103.0], [1995.73, 106.0], [1995.8, 102.5],
];
const suffolkGroundwaterRecent: [number, number][] = [
  [2017.3, 92.3], [2017.45, 93.9], [2017.6, 93.0], [2017.75, 95.0], [2017.9, 93.4], [2018.05, 94.4], [2018.2, 93.0],
  [2018.35, 94.8], [2018.5, 93.2], [2018.65, 95.4], [2018.8, 93.6], [2018.95, 92.6], [2019.1, 93.4], [2019.25, 92.2],
  [2019.4, 92.0], [2019.55, 93.0], [2019.7, 94.6], [2019.85, 93.2], [2020.0, 92.4], [2020.15, 91.8], [2020.3, 92.6],
  [2020.45, 91.5], [2020.6, 91.2], [2020.75, 90.9], [2020.9, 90.7], [2021.05, 90.5], [2021.2, 91.0], [2021.35, 92.5],
  [2021.5, 91.8], [2021.65, 93.0], [2021.8, 92.0], [2021.95, 93.5], [2022.1, 91.7], [2022.25, 92.2], [2022.35, 94.6],
  [2022.5, 96.2], [2022.6, 94.0], [2022.7, 94.8], [2022.8, 94.2],
];

// ---------------- styling ----------------
const RED = '#d2232a';
const RED_DARK = '#a3171c';
const BLUE = '#2e5ba8';
const SWIFT_LIGHT = '#2aaae1';
const SWIFT_DARK = '#1d77a6';
const NAVY = '#1d2a5c';
const AXIS_GRAY = '#bfbfbf';
const TEXT_GRAY = '#595959';
const SANS = '"Liberation Sans", Arial, sans-serif';
const NARROW = '"Liberation Sans Narrow", "DejaVu Sans Condensed", "Liberation Sans", sans-serif';

function fitScale(text: string, font: string, target: number) {
  try {
    const ctx = document.createElement('canvas').getContext('2d');
    if (!ctx) return 1;
    ctx.font = font;
    const w = ctx.measureText(text).width;
    return w > 0 ? target / w : 1;
  } catch (e) {
    return 1;
  }
}

const labelStyle = { color: TEXT_GRAY, fontSize: 11.5, fontFamily: SANS };

function xValueAxis(gridIndex: number, min: number, max: number, interval: number, fmt: (v: number) => string) {
  return {
    type: 'value', gridIndex, min, max, interval,
    axisLine: { show: true, onZero: false, lineStyle: { color: AXIS_GRAY, width: 1 } },
    axisTick: { show: true, length: 4, lineStyle: { color: AXIS_GRAY } },
    axisLabel: { ...labelStyle, margin: 7, formatter: fmt, showMaxLabel: true, showMinLabel: true },
    splitLine: { show: false },
  };
}

function yValueAxis(gridIndex: number, min: number, max: number, interval: number, inverse: boolean,
  position: string, fmt: (v: number) => string, margin: number, split: string[] | null) {
  return {
    type: 'value', gridIndex, min, max, interval, inverse, position,
    axisLine: { show: true, onZero: false, lineStyle: { color: AXIS_GRAY, width: 1 } },
    axisTick: { show: true, length: 4, lineStyle: { color: AXIS_GRAY } },
    axisLabel: { ...labelStyle, margin, formatter: fmt },
    splitLine: split ? { show: true, lineStyle: { color: split, width: 1 } } : { show: false },
  };
}

const yearFmt = (base: number, step: number) => (v: number) => {
  const k = (v - base) / step;
  return Math.abs(k - Math.round(k)) < 1e-6 ? String(Math.round(v)) : '';
};
const monthFmt = (v: number) => {
  const i = Math.round(v / 6);
  return Math.abs(v - i * 6) < 1e-6 && i >= 0 && i < nansemondTickLabels.length ? nansemondTickLabels[i] : '';
};
const fixed1 = (v: number) => v.toFixed(1);

export default function App() {
  const ref = useRef<HTMLDivElement | null>(null);

  useEffect(() => {
    if (!ref.current) return;
    const chart = echarts.init(ref.current, null, { renderer: 'svg' });

    const fieldDots: [number, number][] = [];
    franklinFieldValues.forEach(([yr, vals]) => vals.forEach((v) => fieldDots.push([yr, v])));

    const titleFont = `bold 28px ${NARROW}`;
    const titles = [
      { text: 'Franklin compaction record and water levels', x: 314, y: 23, w: 515 },
      { text: 'Nansemond compaction record and water levels', x: 935, y: 23, w: 552 },
      { text: 'Suffolk compaction record and water levels', x: 314, y: 322, w: 504 },
      { text: 'Nansemond compaction record and SWIFT MAR', x: 936, y: 322, w: 550 },
    ];
    const footer = 'Preliminary Information - Subject to Revision. Not for Citation or Distribution';
    const footerFont = `italic bold 16px ${NARROW}`;

    const vText = (text: string, x: number, y: number) => ({
      type: 'text', x, y, rotation: Math.PI / 2,
      style: { text, fill: TEXT_GRAY, fontSize: 14, fontWeight: 'bold', fontFamily: SANS, textAlign: 'center', textVerticalAlign: 'middle' },
    });
    const hText = (text: string, x: number, y: number, size: number, fill: string, bold: boolean, align = 'center') => ({
      type: 'text', x, y,
      style: { text, fill, fontSize: size, fontWeight: bold ? 'bold' : 'normal', fontFamily: SANS, textAlign: align, textVerticalAlign: 'middle' },
    });

    const graphic: any[] = [
      ...titles.map((t) => ({
        type: 'text', x: t.x, y: t.y, scaleX: fitScale(t.text, titleFont, t.w),
        style: { text: t.text, x: 0, y: 0, fill: '#1a1a1a', fontSize: 28, fontWeight: 'bold', fontFamily: NARROW, textAlign: 'center', textVerticalAlign: 'middle' },
      })),
      vText('Cumulative compaction (mm)', 19, 141),
      vText('Depth to water (ft. bls)', 612, 140),
      vText('Cumulative compaction (mm )', 650, 142),
      vText('Depth to water (ft. bls)', 1212, 142),
      vText('Cumulative compaction (mm)', 19, 438),
      vText('Depth to water (ft. bls)', 612, 438),
      vText('Cumulative compaction (mm )', 650, 437),
      vText('Millions of gallons', 1213, 437),
      hText('Time', 314, 268, 14, TEXT_GRAY, true),
      hText('Time', 934, 268, 14, TEXT_GRAY, true),
      hText('Time', 314, 566, 14, TEXT_GRAY, true),
      hText('Time', 934, 562, 14, TEXT_GRAY, true),
      { type: 'circle', shape: { cx: 20, cy: 270, r: 7.5 }, style: { fill: NAVY } },
      hText('groundwater level field value', 34, 270, 16, '#262626', false, 'left'),
      { type: 'rect', shape: { x: 640, y: 269, width: 94, height: 38 }, style: { fill: 'none', stroke: '#d6d6d6', lineWidth: 1 } },
      { type: 'line', shape: { x1: 387, y1: 286, x2: 452, y2: 286 }, style: { stroke: RED, lineWidth: 2.5 } },
      hText('compaction', 459, 285, 17, '#262626', false, 'left'),
      { type: 'line', shape: { x1: 563, y1: 286, x2: 628, y2: 286 }, style: { stroke: BLUE, lineWidth: 2.5 } },
      hText('groundwater', 635, 285, 17, '#262626', false, 'left'),
      { type: 'line', shape: { x1: 749, y1: 286, x2: 813, y2: 286 }, style: { stroke: SWIFT_LIGHT, lineWidth: 2.5 } },
      hText('SWIFT', 820, 285, 17, '#262626', false, 'left'),
      {
        type: 'text', x: 630, y: 566, scaleX: fitScale(footer, footerFont, 484),
        style: { text: footer, x: 0, y: 0, fill: '#1a1a1a', fontSize: 16, fontWeight: 'bold', fontStyle: 'italic', fontFamily: NARROW, textAlign: 'center', textVerticalAlign: 'middle' },
      },
    ];

    const lineSeries = (xi: number, yi: number, data: [number, number][], color: string | null, width: number, z = 3) => ({
      type: 'line', xAxisIndex: xi, yAxisIndex: yi, data, symbol: 'none', showSymbol: false, silent: true, z,
      lineStyle: color ? { color, width } : { width },
      emphasis: { disabled: true },
    });

    const option: any = {
      animation: false,
      backgroundColor: '#ffffff',
      grid: [
        { left: 59, top: 46, width: 510, height: 191, containLabel: false, outerBoundsMode: 'none' },
        { left: 690, top: 48, width: 492, height: 188, containLabel: false, outerBoundsMode: 'none' },
        { left: 60, top: 343, width: 513, height: 191, containLabel: false, outerBoundsMode: 'none' },
        { left: 689, top: 343, width: 493, height: 188, containLabel: false, outerBoundsMode: 'none' },
      ],
      xAxis: [
        xValueAxis(0, 1960, 2023.5, franklinYearTicks, yearFmt(1960, 4)),
        xValueAxis(1, 0, 59.4, 6, monthFmt),
        xValueAxis(2, 1982, 2023.25, 4, yearFmt(1982, 4)),
        xValueAxis(3, 0, 59.4, 6, monthFmt),
      ],
      yAxis: [
        yValueAxis(0, 0, 30, 5, true, 'left', fixed1, 8,
          ['#dcdcdc', '#cfcfcf', '#a6a6a6', '#d6d6d6', '#8c8c8c', '#8c8c8c', '#bfbfbf']),
        yValueAxis(0, 100, 220, 20, true, 'right', (v) => String(v), 10, null),
        yValueAxis(1, -1.5, 1.5, 0.5, true, 'left', fixed1, 8,
          ['#d6d6d6', '#d0d0d0', '#c8c8c8', '#cfcfcf', '#bdbdbd', '#7f7f7f', '#bfbfbf']),
        yValueAxis(1, 90, 100, 2, true, 'right', (v) => String(v), 6, null),
        yValueAxis(2, 0, 60, 10, true, 'left', fixed1, 8,
          ['#a6a6a6', '#cfcfcf', '#7f7f7f', '#cfcfcf', '#bfbfbf', '#cfcfcf', '#bfbfbf']),
        yValueAxis(2, 60, 120, 10, true, 'right', (v) => String(v), 6, null),
        yValueAxis(3, -1.5, 1.5, 0.5, true, 'left', fixed1, 8,
          ['#d0d0d0', '#c4c4c4', '#8c8c8c', '#c4c4c4', '#8c8c8c', '#8c8c8c', '#bfbfbf']),
        yValueAxis(3, 0, 1.8, 0.3, false, 'right', (v) => (Math.abs(v) < 1e-9 ? '0' : v.toFixed(1)), 8, null),
      ],
      visualMap: [
        {
          type: 'piecewise', show: false, dimension: 0, seriesIndex: 11,
          pieces: swiftBands.map(([a, b]) => ({ gte: a, lt: b, color: SWIFT_DARK })),
          outOfRange: { color: SWIFT_LIGHT },
        },
        {
          type: 'piecewise', show: false, dimension: 0, seriesIndex: 12,
          pieces: swiftBands.map(([a, b]) => ({ gte: a, lt: b, color: RED_DARK })),
          outOfRange: { color: RED },
        },
      ],
      series: [
        {
          type: 'scatter', xAxisIndex: 0, yAxisIndex: 1, data: fieldDots, symbol: 'circle', symbolSize: 8,
          itemStyle: { color: NAVY, opacity: 1 }, silent: true, z: 2, emphasis: { disabled: true },
        },
        lineSeries(0, 1, franklinGroundwater, BLUE, 2),
        lineSeries(0, 0, franklinCompactionEarly, RED, 2),
        lineSeries(0, 0, franklinCompactionRecent, RED, 2),
        lineSeries(1, 2, nansemondCompaction, RED, 1.8),
        lineSeries(1, 3, nansemondGroundwater, BLUE, 1.8),
        lineSeries(2, 4, suffolkCompactionEarly, RED, 2.5),
        lineSeries(2, 4, suffolkCompactionRecent, RED, 2.5),
        lineSeries(2, 5, suffolkGroundwaterEarly, BLUE, 2.5),
        lineSeries(2, 5, suffolkGroundwaterRecent, BLUE, 2.5),
        {
          type: 'line', xAxisIndex: 3, yAxisIndex: 7, data: [], symbol: 'none', silent: true,
          markArea: {
            silent: true,
            itemStyle: { color: 'rgba(105,105,105,0.5)' },
            data: swiftBands.map(([a, b]) => [{ xAxis: a }, { xAxis: b }]),
          },
        },
        lineSeries(3, 7, swiftMar, null, 1.7),
        lineSeries(3, 6, nansemondCompaction, null, 1.8),
      ],
      graphic,
    };

    chart.setOption(option);
    return () => chart.dispose();
  }, []);

  return <div ref={ref} style={{ position: 'fixed', left: 0, top: 0, width: 1222, height: 576, background: '#fff' }} />;
}
